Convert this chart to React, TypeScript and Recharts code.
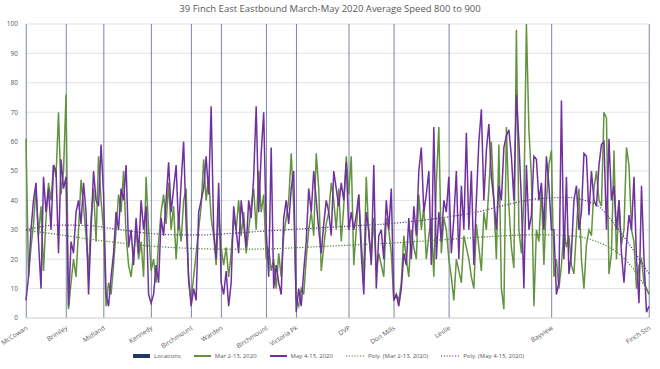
import { ComposedChart, Line, Bar, XAxis, YAxis, CartesianGrid, Legend } from 'recharts';

// stop locations (sample index along the route) and their labels
const locIdx = [0, 16, 31, 50, 66, 78, 96, 108, 129, 147, 169, 210, 249];
const locNames = ['McCowan', 'Brimley', 'Midland', 'Kennedy', 'Birchmount', 'Warden', 'Birchmount', 'Victoria Pk', 'DVP', 'Don Mills', 'Leslie', 'Bayview', 'Finch Stn'];

// Mar 2-13, 2020 average speed
const marSpeed = [
  61, 14, 24, 32, 44, 28, 38, 16, 34, 46, 40, 52, 48, 70, 42, 50, 76,
  3, 12, 20, 14, 30, 47, 38, 28, 16, 34, 44, 26, 55, 40, 30,
  4, 12, 8, 18, 30, 42, 36, 50, 28, 18, 14, 22, 30, 20, 26, 14, 48, 30, 16,
  20, 12, 26, 36, 42, 32, 46, 30, 38, 20, 34, 26, 40, 44, 12, 6,
  14, 22, 30, 38, 54, 40, 48, 34, 28, 18, 36, 24,
  18, 24, 14, 22, 34, 30, 40, 28, 36, 22, 30, 38, 44, 30, 50, 36, 42, 20,
  24, 16, 20, 10, 22, 14, 28, 34, 40, 56, 38, 6,
  4, 10, 8, 20, 30, 36, 28, 56, 44, 16, 24, 32, 36, 46, 40, 30, 44, 26, 38, 55, 42,
  55, 18, 30, 42, 26, 14, 48, 28, 20, 34, 16, 22, 18, 14, 34, 30, 22, 6,
  8, 6, 12, 28, 20, 14, 30, 24, 20, 42, 30, 38, 20, 28, 34, 14, 46, 65, 22, 34, 30, 20,
  14, 6, 20, 16, 12, 28, 24, 20, 14, 10, 32, 24, 16, 36, 30, 44, 60, 40, 20, 59,
  10, 3, 65, 38, 24, 17, 98, 30, 22, 40, 100, 64, 48, 4, 30, 26, 44, 18, 40, 52, 57,
  14, 20, 10, 18, 30, 24, 28, 18, 15, 30, 44, 20, 10, 25, 30, 28, 44, 50, 40, 38,
  70, 68, 15, 22, 57, 20, 40, 25, 30, 58, 52, 30, 26, 10, 18, 20, 12, 10, 8,
];

// May 4-15, 2020 average speed
const maySpeed = [
  6, 14, 30, 40, 46, 26, 10, 48, 36, 44, 30, 52, 50, 22, 54, 44, 48,
  4, 26, 22, 36, 40, 32, 46, 36, 8, 30, 50, 40, 38, 59, 42,
  8, 4, 14, 22, 36, 30, 44, 40, 52, 24, 30, 18, 34, 22, 40, 30, 38, 8, 5,
  8, 18, 12, 34, 28, 40, 53, 36, 44, 52, 30, 46, 60, 32, 14, 4,
  10, 6, 36, 40, 44, 55, 42, 72, 30, 20, 46, 12,
  8, 16, 4, 12, 38, 30, 22, 40, 32, 24, 40, 34, 48, 72, 36, 56, 70, 30,
  14, 58, 10, 18, 12, 8, 34, 40, 32, 44, 50, 2,
  10, 4, 16, 26, 44, 36, 50, 40, 30, 22, 32, 40, 36, 28, 50, 44, 38, 46, 40, 53, 30,
  36, 30, 35, 42, 22, 8, 36, 30, 18, 52, 10, 28, 30, 20, 40, 30, 44, 6,
  8, 4, 10, 22, 18, 34, 20, 38, 28, 50, 58, 36, 42, 50, 18, 65, 20, 36, 26, 40, 36, 48,
  22, 34, 50, 20, 45, 30, 63, 30, 50, 18, 40, 60, 71, 40, 57, 66, 48, 40, 30, 45,
  40, 58, 62, 64, 55, 40, 76, 60, 40, 10, 52, 30, 35, 55, 54, 40, 46, 30, 55, 45, 30,
  30, 8, 12, 74, 20, 48, 15, 22, 40, 45, 30, 36, 56, 55, 35, 50, 40, 38, 52, 59,
  60, 30, 61, 40, 45, 30, 40, 22, 12, 25, 35, 30, 48, 20, 5, 45, 20, 2, 4,
];

// polynomial trend lines, read at a few points
const trendIdx = [0, 12, 24, 36, 48, 60, 72, 84, 96, 108, 120, 132, 144, 156, 168, 180, 192, 204, 216, 228, 236, 242, 249];
const marTrend = [29.8, 28.5, 27, 25.7, 24.6, 23.9, 23.5, 23.4, 23.5, 23.9, 24.4, 24.9, 25.4, 26, 26.7, 27.4, 28, 28.3, 28.1, 26, 22.5, 17.5, 8.5];
const mayTrend = [30, 31.6, 31.5, 30.2, 28.9, 28.3, 28.3, 28.9, 29.6, 30.2, 30.8, 31.4, 32, 33, 34.3, 36, 38.5, 40.5, 41, 38.4, 31, 24, 15];

const yTicks = [0, 10, 20, 30, 40, 50, 60, 70, 80, 90, 100];

const GREEN = '#62943f';
const PURPLE = '#7030a0';
const FONT = '"Open Sans", sans-serif';
const TEXT = '#595959';

const data = marSpeed.map((v, i) => {
  const t = trendIdx.indexOf(i);
  return {
    i,
    loc: locIdx.includes(i) ? 100 : null,
    mar: v,
    may: maySpeed[i],
    polyMar: t >= 0 ? marTrend[t] : null,
    polyMay: t >= 0 ? mayTrend[t] : null,
  };
});

function LocTick({ x, y, payload }: any) {
  const name = locNames[locIdx.indexOf(payload.value)];
  const px = x + 2;
  const py = y + 3;
  return (
    <text x={px} y={py} textAnchor="end" fontSize={6.5} fill={TEXT} fontFamily={FONT} transform={`rotate(-33 ${px} ${py})`}>
      {name}
    </text>
  );
}

function LegendBox() {
  const item = { display: 'flex', alignItems: 'center', gap: 4 } as const;
  const dotted = (c: string) => (
    <svg width={18} height={4}><line x1={0} y1={2} x2={18} y2={2} stroke={c} strokeWidth={1.2} strokeDasharray="1.2 1.6" /></svg>
  );
  return (
    <div style={{ height: 18, display: 'flex', justifyContent: 'center', alignItems: 'center', gap: 13, fontFamily: FONT, fontSize: 6, color: TEXT, paddingLeft: 8 }}>
      <div style={item}><div style={{ width: 17, height: 4, background: '#1f3864' }} />Locations</div>
      <div style={item}><div style={{ width: 17, height: 1.3, background: GREEN }} />Mar 2-13, 2020</div>
      <div style={item}><div style={{ width: 17, height: 1.3, background: PURPLE }} />May 4-15, 2020</div>
      <div style={item}>{dotted('#4f7a33')}Poly. (Mar 2-13, 2020)</div>
      <div style={item}>{dotted('#5b3a8c')}Poly. (May 4-15, 2020)</div>
    </div>
  );
}

export default function App() {
  return (
    <div style={{ position: 'absolute', left: 0, top: 0, width: 660, height: 369, background: '#fff' }}>
      <div style={{ position: 'absolute', top: 2, left: 0, width: 660, textAlign: 'center', fontFamily: FONT, fontSize: 9.5, color: TEXT }}>
        39 Finch East Eastbound March-May 2020 Average Speed 800 to 900
      </div>
      <ComposedChart width={660} height={369} data={data} margin={{ top: 24, right: 11, left: 0, bottom: 4 }}>
        <CartesianGrid vertical={false} stroke="#e3e3e3" />
        <XAxis
          dataKey="i"
          type="number"
          domain={[0, 249]}
          ticks={locIdx}
          interval={0}
          tick={<LocTick />}
          tickLine={false}
          axisLine={{ stroke: '#d9d9d9' }}
          height={29}
        />
        <YAxis
          domain={[0, 100]}
          ticks={yTicks}
          width={26}
          tickLine={false}
          axisLine={false}
          tick={{ fontSize: 6.5, fill: TEXT, fontFamily: FONT }}
        />
        <Legend verticalAlign="bottom" height={18} content={<LegendBox />} />
        <Bar dataKey="loc" barSize={1} fill="#1f3864" fillOpacity={0.6} isAnimationActive={false} />
        <Line type="linear" dataKey="mar" stroke={GREEN} strokeWidth={1.5} dot={false} isAnimationActive={false} />
        <Line type="linear" dataKey="may" stroke={PURPLE} strokeWidth={1.5} dot={false} isAnimationActive={false} />
        <Line type="monotone" dataKey="polyMar" stroke="#4f7a33" strokeWidth={1.2} strokeDasharray="1.2 1.6" dot={false} connectNulls isAnimationActive={false} />
        <Line type="monotone" dataKey="polyMay" stroke="#5b3a8c" strokeWidth={1.2} strokeDasharray="1.2 1.6" dot={false} connectNulls isAnimationActive={false} />
      </ComposedChart>
    </div>
  );
}
